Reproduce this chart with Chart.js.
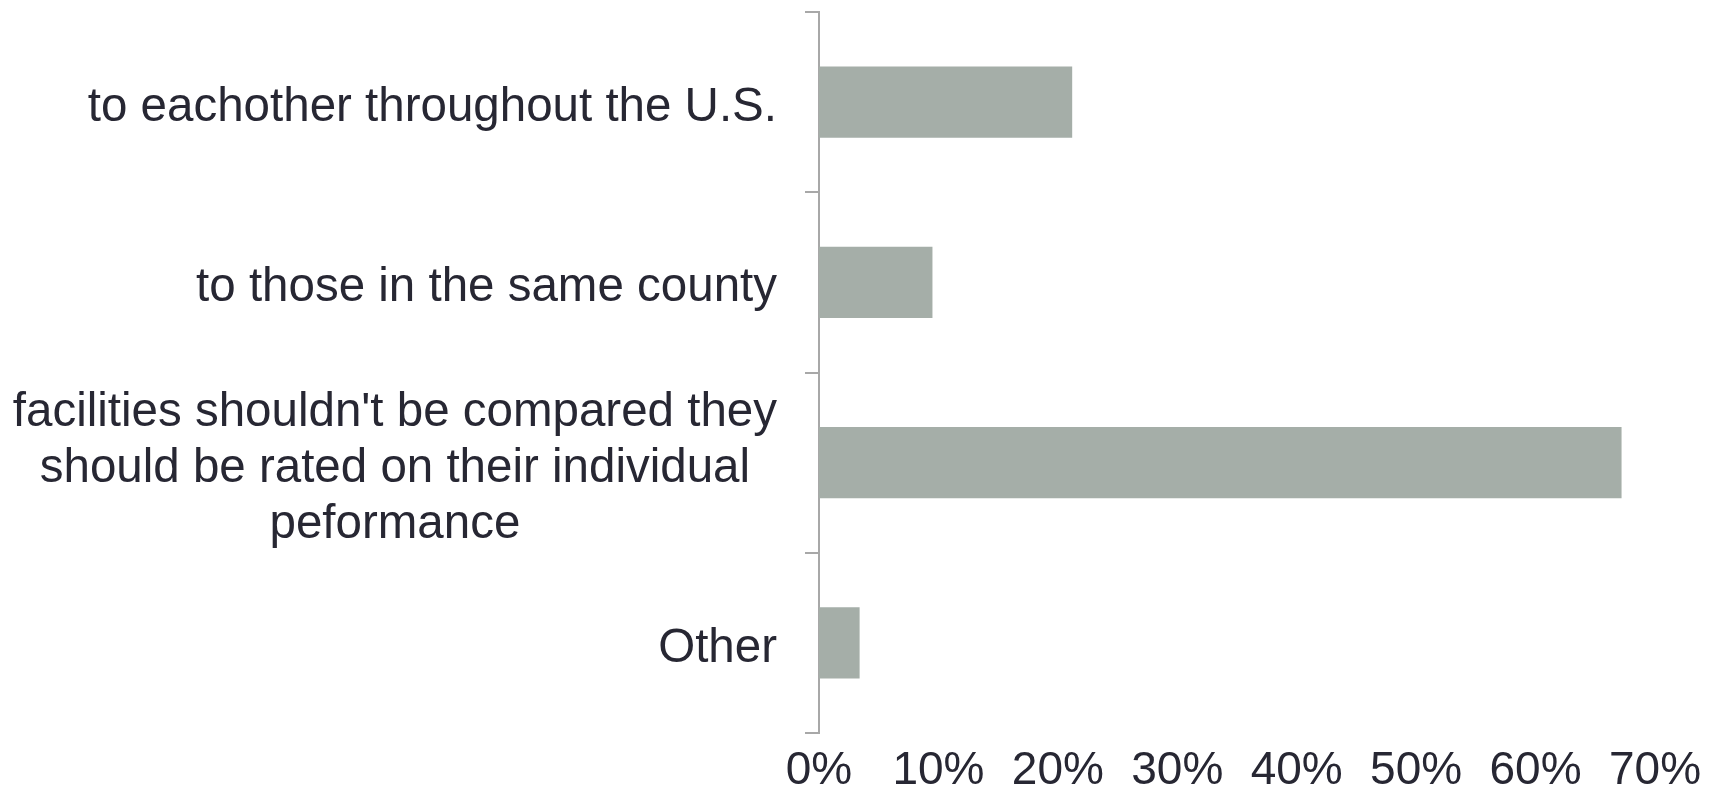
<!DOCTYPE html>
<html>
<head>
<meta charset="utf-8">
<script src="https://cdn.jsdelivr.net/npm/chart.js@4/dist/chart.umd.min.js"></script>
<style>
  html, body { margin: 0; padding: 0; background: #fff; }
  #wrap { width: 1727px; height: 785px; }
</style>
</head>
<body>
<div id="wrap"><canvas id="chart" width="1727" height="785"></canvas></div>
<script>
// Categorias (linhas de cada rótulo) e percentuais das respostas
const categories = [
  ['to eachother throughout the U.S.'],
  ['to those in the same county'],
  ["facilities shouldn't be compared they", 'should be rated on their individual', 'peformance'],
  ['Other']
];
const percentages = [21.2, 9.5, 67.2, 3.4];
const tickValues = [0, 10, 20, 30, 40, 50, 60, 70];

const textColor = '#272733';
const barColor = '#a5aea8';
const axisColor = '#a8a8a8';
const fontFamily = '"Liberation Sans", Arial, sans-serif';

// Desenha os rótulos do eixo Y: bloco alinhado à direita, linhas centralizadas entre si
const categoryLabels = {
  id: 'categoryLabels',
  afterDraw(chart) {
    const ctx = chart.ctx;
    const yScale = chart.scales.y;
    const right = yScale.right - 14 - 28;
    const lineHeight = 56;
    ctx.save();
    ctx.font = '47.5px ' + fontFamily;
    ctx.fillStyle = textColor;
    ctx.textAlign = 'center';
    ctx.textBaseline = 'middle';
    chart.data.labels.forEach((lines, i) => {
      const yc = yScale.getPixelForValue(i) + 6;
      const widest = Math.max(...lines.map(l => ctx.measureText(l).width));
      const cx = right - widest / 2;
      lines.forEach((line, j) => {
        ctx.fillText(line, cx, yc + (j - (lines.length - 1) / 2) * lineHeight);
      });
    });
    ctx.restore();
  }
};

new Chart(document.getElementById('chart'), {
  type: 'bar',
  data: {
    labels: categories,
    datasets: [{
      data: percentages,
      backgroundColor: barColor,
      borderWidth: 0,
      barPercentage: 0.395,
      categoryPercentage: 1.0
    }]
  },
  options: {
    indexAxis: 'y',
    responsive: false,
    animation: false,
    devicePixelRatio: 1,
    layout: { padding: { top: 12, right: 72, left: 0, bottom: 0 } },
    plugins: {
      legend: { display: false },
      tooltip: { enabled: false }
    },
    scales: {
      x: {
        min: 0,
        max: 70,
        afterBuildTicks: scale => { scale.ticks = tickValues.map(v => ({ value: v })); },
        afterFit: scale => { scale.height = 52; },
        grid: { display: false },
        border: { display: false },
        ticks: {
          padding: 7,
          color: textColor,
          font: { family: fontFamily, size: 46, lineHeight: 1.0 },
          callback: v => v + '%'
        }
      },
      y: {
        afterFit: scale => { scale.width = 819; },
        grid: {
          offset: true,
          drawOnChartArea: false,
          drawTicks: true,
          tickLength: 14,
          color: axisColor,
          lineWidth: 2
        },
        border: { display: true, color: axisColor, width: 2 },
        ticks: { display: false }
      }
    }
  },
  plugins: [categoryLabels]
});
</script>
</body>
</html>
